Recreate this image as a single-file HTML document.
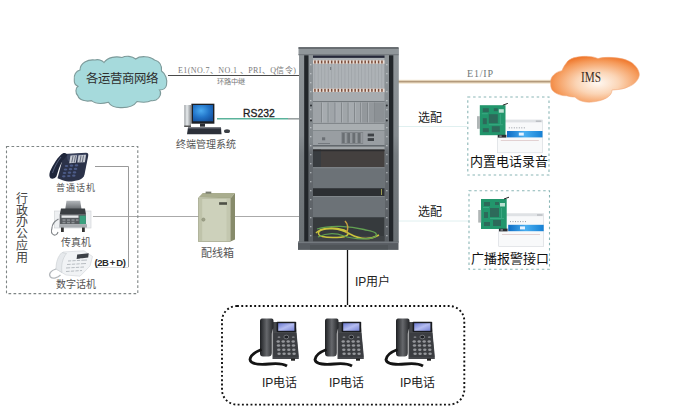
<!DOCTYPE html>
<html lang="zh-CN"><head><meta charset="utf-8">
<style>
html,body{margin:0;padding:0;background:#fff;}
body{width:700px;height:420px;overflow:hidden;position:relative;font-family:"Liberation Sans",sans-serif;}
svg{position:absolute;left:0;top:0;}
.t{position:absolute;white-space:nowrap;line-height:1;}
.serif{font-family:"Liberation Serif",serif;}
</style></head><body>
<svg width="700" height="420" viewBox="0 0 700 420">
<defs>
  <linearGradient id="bluebar" x1="0" x2="1"><stop offset="0" stop-color="#0e6cc4"/><stop offset="0.5" stop-color="#48aef0"/><stop offset="1" stop-color="#1580d4"/></linearGradient>
  <radialGradient id="imsg" cx="0.53" cy="0.58" r="0.6">
    <stop offset="0" stop-color="#fff9f3"/>
    <stop offset="0.4" stop-color="#fbd5b6"/>
    <stop offset="0.8" stop-color="#f59a5a"/>
    <stop offset="1" stop-color="#ef7428"/>
  </radialGradient>
</defs>
<!-- lines -->
<line x1="168" y1="75.5" x2="300" y2="75.5" stroke="#4a4a4a" stroke-width="1"/>
<line x1="217" y1="118.8" x2="288" y2="118.8" stroke="#5ab39b" stroke-width="1.6"/><line x1="288" y1="118.8" x2="300" y2="118.8" stroke="#9aa2a2" stroke-width="1.6"/>
<line x1="398" y1="81.7" x2="552" y2="81.7" stroke="#f3e6cf" stroke-width="4"/><line x1="398" y1="81.7" x2="552" y2="81.7" stroke="#b39a7c" stroke-width="1.8"/>
<line x1="93" y1="216.5" x2="300" y2="216.5" stroke="#aaa" stroke-width="1"/>
<line x1="95" y1="267.5" x2="128.5" y2="267.5" stroke="#dcdcdc" stroke-width="1"/>
<polyline points="95,166.5 128.5,166.5 128.5,267" fill="none" stroke="#999" stroke-width="1"/>
<line x1="398" y1="126.5" x2="467" y2="126.5" stroke="#e0f0f0" stroke-width="1"/>
<line x1="398" y1="221" x2="469" y2="221" stroke="#e0f0f0" stroke-width="1"/>
<line x1="347.5" y1="250" x2="347.5" y2="305" stroke="#111" stroke-width="1.3"/>

<!-- dashed boxes -->
<rect x="6.5" y="146.5" width="131.3" height="147.1" fill="none" stroke="#7f8585" stroke-width="1.1" stroke-dasharray="2.7,2.3"/>
<rect x="467.8" y="97" width="81.2" height="78" fill="none" stroke="#8ab6b6" stroke-width="1.1" stroke-dasharray="2.5,2.8"/>
<rect x="469" y="190.7" width="80.5" height="78.6" fill="none" stroke="#8ab6b6" stroke-width="1.1" stroke-dasharray="2.5,2.8"/>
<rect x="222" y="306" width="242.3" height="98.6" rx="15" ry="15" fill="none" stroke="#111" stroke-width="1.9" stroke-dasharray="1.9,2.4"/>

<!-- cloud 1 -->
<path d="M74.3,80 C73.5,75 76,71 80,70 C80,63 88,59 95,60 C98,59 102,60 104,62.5 C108,57 116,56 122,57.5 C126,55.5 132,56 135.7,59 C140,55.5 150,56 154.5,60 C159,61 162,64 161.5,71 C166,74 167.5,80 166.5,85 C166,88 163,90 159.5,90 C162,93 160,98 156,100 C153,101 152,101 151.5,100.6 C148,102.5 142,102.5 137,101.5 C134,106 128,107.8 121,107.6 C115,107.8 110,105.5 108.5,102.3 C102,104 95,103.5 91.5,100.6 C86,102 79,100 78,96 C75,93 75.5,88 78,86.3 C75,85 74,83 74.3,80 Z" fill="#a6dadc" stroke="#7d9a9a" stroke-width="1.1"/>
<g id="rack">
<defs>
<linearGradient id="sideL" x1="0" y1="0" x2="0" y2="1"><stop offset="0" stop-color="#90969a"/><stop offset="0.45" stop-color="#868c90"/><stop offset="0.55" stop-color="#767c80"/><stop offset="1" stop-color="#6a7074"/></linearGradient>
<linearGradient id="railL" x1="0" y1="0" x2="0" y2="1"><stop offset="0" stop-color="#90969a"/><stop offset="0.47" stop-color="#80868a"/><stop offset="0.53" stop-color="#656a6f"/><stop offset="1" stop-color="#5a5f64"/></linearGradient>
</defs>
<rect x="299" y="48" width="99.5" height="194" fill="#7c8387"/>
<rect x="299" y="48" width="5.2" height="194" fill="url(#sideL)"/>
<rect x="393.3" y="48" width="5.2" height="194" fill="url(#sideL)"/>
<rect x="304.2" y="54" width="4.5" height="188" fill="#22262a"/>
<rect x="389" y="54" width="4.3" height="188" fill="#22262a"/>
<rect x="308.7" y="54" width="4.3" height="188" fill="url(#railL)"/>
<rect x="384.5" y="54" width="4.5" height="188" fill="url(#railL)"/>
<rect x="310.1" y="64" width="1.3" height="1.3" fill="#c0c5c8"/>
<rect x="386.2" y="64" width="1.3" height="1.3" fill="#c0c5c8"/>
<rect x="310.1" y="73" width="1.3" height="1.3" fill="#c0c5c8"/>
<rect x="386.2" y="73" width="1.3" height="1.3" fill="#c0c5c8"/>
<rect x="310.1" y="82" width="1.3" height="1.3" fill="#c0c5c8"/>
<rect x="386.2" y="82" width="1.3" height="1.3" fill="#c0c5c8"/>
<rect x="310.1" y="91" width="1.3" height="1.3" fill="#c0c5c8"/>
<rect x="386.2" y="91" width="1.3" height="1.3" fill="#c0c5c8"/>
<rect x="310.1" y="100" width="1.3" height="1.3" fill="#c0c5c8"/>
<rect x="386.2" y="100" width="1.3" height="1.3" fill="#c0c5c8"/>
<rect x="310.1" y="109" width="1.3" height="1.3" fill="#c0c5c8"/>
<rect x="386.2" y="109" width="1.3" height="1.3" fill="#c0c5c8"/>
<rect x="310.1" y="118" width="1.3" height="1.3" fill="#c0c5c8"/>
<rect x="386.2" y="118" width="1.3" height="1.3" fill="#c0c5c8"/>
<rect x="310.1" y="127" width="1.3" height="1.3" fill="#c0c5c8"/>
<rect x="386.2" y="127" width="1.3" height="1.3" fill="#c0c5c8"/>
<rect x="310.1" y="136" width="1.3" height="1.3" fill="#c0c5c8"/>
<rect x="386.2" y="136" width="1.3" height="1.3" fill="#c0c5c8"/>
<rect x="310.1" y="145" width="1.3" height="1.3" fill="#c0c5c8"/>
<rect x="386.2" y="145" width="1.3" height="1.3" fill="#c0c5c8"/>
<rect x="310.1" y="154" width="1.3" height="1.3" fill="#b0b5b8"/>
<rect x="386.2" y="154" width="1.3" height="1.3" fill="#b0b5b8"/>
<rect x="310.1" y="163" width="1.3" height="1.3" fill="#b0b5b8"/>
<rect x="386.2" y="163" width="1.3" height="1.3" fill="#b0b5b8"/>
<rect x="310.1" y="172" width="1.3" height="1.3" fill="#b0b5b8"/>
<rect x="386.2" y="172" width="1.3" height="1.3" fill="#b0b5b8"/>
<rect x="310.1" y="181" width="1.3" height="1.3" fill="#b0b5b8"/>
<rect x="386.2" y="181" width="1.3" height="1.3" fill="#b0b5b8"/>
<rect x="310.1" y="190" width="1.3" height="1.3" fill="#b0b5b8"/>
<rect x="386.2" y="190" width="1.3" height="1.3" fill="#b0b5b8"/>
<rect x="310.1" y="199" width="1.3" height="1.3" fill="#b0b5b8"/>
<rect x="386.2" y="199" width="1.3" height="1.3" fill="#b0b5b8"/>
<rect x="310.1" y="208" width="1.3" height="1.3" fill="#b0b5b8"/>
<rect x="386.2" y="208" width="1.3" height="1.3" fill="#b0b5b8"/>
<rect x="310.1" y="217" width="1.3" height="1.3" fill="#b0b5b8"/>
<rect x="386.2" y="217" width="1.3" height="1.3" fill="#b0b5b8"/>
<rect x="310.1" y="226" width="1.3" height="1.3" fill="#b0b5b8"/>
<rect x="386.2" y="226" width="1.3" height="1.3" fill="#b0b5b8"/>
<rect x="310.1" y="235" width="1.3" height="1.3" fill="#b0b5b8"/>
<rect x="386.2" y="235" width="1.3" height="1.3" fill="#b0b5b8"/>
<rect x="298.5" y="47.2" width="100" height="8" fill="#90969a"/>
<rect x="298.5" y="47.2" width="100" height="1.6" fill="#5e6367"/>
<rect x="298.5" y="54.2" width="100" height="1" fill="#70767a"/>
<rect x="313" y="55.6" width="71.5" height="2.2" fill="#26283a"/>
<rect x="313" y="58" width="71.5" height="35" fill="#adb2b6"/>
<rect x="314.50" y="64" width="0.6" height="24" fill="#9ba0a4"/>
<rect x="317.85" y="64" width="0.6" height="24" fill="#9ba0a4"/>
<rect x="321.20" y="64" width="0.6" height="24" fill="#9ba0a4"/>
<rect x="324.55" y="64" width="0.6" height="24" fill="#9ba0a4"/>
<rect x="327.90" y="64" width="0.6" height="24" fill="#9ba0a4"/>
<rect x="331.25" y="64" width="0.6" height="24" fill="#9ba0a4"/>
<rect x="334.60" y="64" width="0.6" height="24" fill="#9ba0a4"/>
<rect x="337.95" y="64" width="0.6" height="24" fill="#9ba0a4"/>
<rect x="341.30" y="64" width="0.6" height="24" fill="#9ba0a4"/>
<rect x="344.65" y="64" width="0.6" height="24" fill="#9ba0a4"/>
<rect x="348.00" y="64" width="0.6" height="24" fill="#9ba0a4"/>
<rect x="351.35" y="64" width="0.6" height="24" fill="#9ba0a4"/>
<rect x="354.70" y="64" width="0.6" height="24" fill="#9ba0a4"/>
<rect x="358.05" y="64" width="0.6" height="24" fill="#9ba0a4"/>
<rect x="361.40" y="64" width="0.6" height="24" fill="#9ba0a4"/>
<rect x="364.75" y="64" width="0.6" height="24" fill="#9ba0a4"/>
<rect x="368.10" y="64" width="0.6" height="24" fill="#9ba0a4"/>
<rect x="371.45" y="64" width="0.6" height="24" fill="#9ba0a4"/>
<rect x="374.80" y="64" width="0.6" height="24" fill="#9ba0a4"/>
<rect x="378.15" y="64" width="0.6" height="24" fill="#9ba0a4"/>
<rect x="381.50" y="64" width="0.6" height="24" fill="#9ba0a4"/>
<rect x="313" y="60.3" width="71.5" height="3.4" fill="#eaddd5"/>
<rect x="313" y="88.6" width="71.5" height="3.4" fill="#eaddd5"/>
<rect x="314.20" y="60.5" width="1.5" height="3" fill="#7a4c3a"/>
<rect x="314.20" y="88.8" width="1.5" height="3" fill="#7a4c3a"/>
<rect x="317.55" y="60.5" width="1.5" height="3" fill="#7a4c3a"/>
<rect x="317.55" y="88.8" width="1.5" height="3" fill="#7a4c3a"/>
<rect x="320.90" y="60.5" width="1.5" height="3" fill="#7a4c3a"/>
<rect x="320.90" y="88.8" width="1.5" height="3" fill="#7a4c3a"/>
<rect x="324.25" y="60.5" width="1.5" height="3" fill="#7a4c3a"/>
<rect x="324.25" y="88.8" width="1.5" height="3" fill="#7a4c3a"/>
<rect x="327.60" y="60.5" width="1.5" height="3" fill="#7a4c3a"/>
<rect x="327.60" y="88.8" width="1.5" height="3" fill="#7a4c3a"/>
<rect x="330.95" y="60.5" width="1.5" height="3" fill="#7a4c3a"/>
<rect x="330.95" y="88.8" width="1.5" height="3" fill="#7a4c3a"/>
<rect x="334.30" y="60.5" width="1.5" height="3" fill="#7a4c3a"/>
<rect x="334.30" y="88.8" width="1.5" height="3" fill="#7a4c3a"/>
<rect x="337.65" y="60.5" width="1.5" height="3" fill="#7a4c3a"/>
<rect x="337.65" y="88.8" width="1.5" height="3" fill="#7a4c3a"/>
<rect x="341.00" y="60.5" width="1.5" height="3" fill="#7a4c3a"/>
<rect x="341.00" y="88.8" width="1.5" height="3" fill="#7a4c3a"/>
<rect x="344.35" y="60.5" width="1.5" height="3" fill="#7a4c3a"/>
<rect x="344.35" y="88.8" width="1.5" height="3" fill="#7a4c3a"/>
<rect x="347.70" y="60.5" width="1.5" height="3" fill="#7a4c3a"/>
<rect x="347.70" y="88.8" width="1.5" height="3" fill="#7a4c3a"/>
<rect x="351.05" y="60.5" width="1.5" height="3" fill="#7a4c3a"/>
<rect x="351.05" y="88.8" width="1.5" height="3" fill="#7a4c3a"/>
<rect x="354.40" y="60.5" width="1.5" height="3" fill="#7a4c3a"/>
<rect x="354.40" y="88.8" width="1.5" height="3" fill="#7a4c3a"/>
<rect x="357.75" y="60.5" width="1.5" height="3" fill="#7a4c3a"/>
<rect x="357.75" y="88.8" width="1.5" height="3" fill="#7a4c3a"/>
<rect x="361.10" y="60.5" width="1.5" height="3" fill="#7a4c3a"/>
<rect x="361.10" y="88.8" width="1.5" height="3" fill="#7a4c3a"/>
<rect x="364.45" y="60.5" width="1.5" height="3" fill="#7a4c3a"/>
<rect x="364.45" y="88.8" width="1.5" height="3" fill="#7a4c3a"/>
<rect x="367.80" y="60.5" width="1.5" height="3" fill="#7a4c3a"/>
<rect x="367.80" y="88.8" width="1.5" height="3" fill="#7a4c3a"/>
<rect x="371.15" y="60.5" width="1.5" height="3" fill="#7a4c3a"/>
<rect x="371.15" y="88.8" width="1.5" height="3" fill="#7a4c3a"/>
<rect x="374.50" y="60.5" width="1.5" height="3" fill="#7a4c3a"/>
<rect x="374.50" y="88.8" width="1.5" height="3" fill="#7a4c3a"/>
<rect x="377.85" y="60.5" width="1.5" height="3" fill="#7a4c3a"/>
<rect x="377.85" y="88.8" width="1.5" height="3" fill="#7a4c3a"/>
<rect x="381.20" y="60.5" width="1.5" height="3" fill="#7a4c3a"/>
<rect x="381.20" y="88.8" width="1.5" height="3" fill="#7a4c3a"/>
<rect x="330" y="67" width="1.2" height="3" fill="#7a7f83"/>
<rect x="313" y="92.2" width="71.5" height="9" fill="#a7acb0"/>
<rect x="313" y="101" width="71.5" height="0.9" fill="#6e7377"/>
<rect x="313" y="101.9" width="71.5" height="21.3" fill="#9ca1a5"/>
<rect x="313" y="102.2" width="71.5" height="20.6" fill="#9ea3a7"/>
<rect x="321.8" y="102.5" width="5.9" height="20" fill="#a6abaf"/>
<rect x="321.8" y="102.5" width="0.7" height="20" fill="#b6bbbf"/>
<rect x="328.5" y="102.5" width="6.1" height="20" fill="#a0a5a9"/>
<rect x="328.5" y="102.5" width="0.7" height="20" fill="#b6bbbf"/>
<rect x="335.4" y="102.5" width="5.6" height="20" fill="#a6abaf"/>
<rect x="335.4" y="102.5" width="0.7" height="20" fill="#b6bbbf"/>
<rect x="341.8" y="102.5" width="5.9" height="20" fill="#a0a5a9"/>
<rect x="341.8" y="102.5" width="0.7" height="20" fill="#b6bbbf"/>
<rect x="348.5" y="102.5" width="5.5" height="20" fill="#a6abaf"/>
<rect x="348.5" y="102.5" width="0.7" height="20" fill="#b6bbbf"/>
<rect x="354.8" y="102.5" width="5.5" height="20" fill="#a0a5a9"/>
<rect x="354.8" y="102.5" width="0.7" height="20" fill="#b6bbbf"/>
<rect x="361.1" y="102.5" width="6.0" height="20" fill="#93989c"/>
<rect x="361.1" y="102.5" width="0.7" height="20" fill="#b6bbbf"/>
<rect x="367.9" y="102.5" width="6.1" height="20" fill="#93989c"/>
<rect x="367.9" y="102.5" width="0.7" height="20" fill="#b6bbbf"/>
<rect x="321" y="102.5" width="0.8" height="20" fill="#7c8185"/>
<rect x="327.7" y="102.5" width="0.8" height="20" fill="#7c8185"/>
<rect x="334.6" y="102.5" width="0.8" height="20" fill="#7c8185"/>
<rect x="341" y="102.5" width="0.8" height="20" fill="#7c8185"/>
<rect x="347.7" y="102.5" width="0.8" height="20" fill="#7c8185"/>
<rect x="354" y="102.5" width="0.8" height="20" fill="#7c8185"/>
<rect x="360.3" y="102.5" width="0.8" height="20" fill="#7c8185"/>
<rect x="367.1" y="102.5" width="0.8" height="20" fill="#7c8185"/>
<rect x="374" y="102.5" width="0.8" height="20" fill="#7c8185"/>
<rect x="374.8" y="102.5" width="9.7" height="20" fill="#8c9195"/>
<circle cx="311" cy="105.5" r="1" fill="#2a2e32"/><circle cx="311" cy="120.5" r="1" fill="#2a2e32"/><circle cx="386.8" cy="105.5" r="1" fill="#2a2e32"/><circle cx="386.8" cy="120.5" r="1" fill="#2a2e32"/>
<rect x="313" y="123" width="71.5" height="0.8" fill="#777c80"/>
<rect x="313" y="123.8" width="71.5" height="6.6" fill="#a9aeb1"/>
<rect x="313" y="130" width="71.5" height="0.7" fill="#767b7f"/>
<rect x="313" y="130.7" width="71.5" height="14.6" fill="#999ea2"/>
<rect x="341.4" y="132" width="21.7" height="12" fill="#7f8488"/>
<rect x="342.2" y="133" width="2.6" height="10" fill="#6a6f73"/>
<rect x="344.8" y="133" width="1.8" height="10" fill="#959a9e"/>
<rect x="347.5" y="133" width="2.6" height="10" fill="#6a6f73"/>
<rect x="350.1" y="133" width="1.8" height="10" fill="#959a9e"/>
<rect x="352.8" y="133" width="2.6" height="10" fill="#6a6f73"/>
<rect x="355.4" y="133" width="1.8" height="10" fill="#959a9e"/>
<rect x="358.1" y="133" width="2.6" height="10" fill="#6a6f73"/>
<rect x="360.7" y="133" width="1.8" height="10" fill="#959a9e"/>
<rect x="367.7" y="133.6" width="6.3" height="2.8" fill="#3e4246"/>
<rect x="367.7" y="138.1" width="6.3" height="2.9" fill="#3e4246"/>
<rect x="322" y="137.3" width="3.2" height="3" fill="#6a6f74"/>
<rect x="318" y="143" width="12" height="0.9" fill="#70757a"/>
<rect x="313" y="145.3" width="71.5" height="1.3" fill="#555a5e"/>
<rect x="313" y="146.6" width="71.5" height="3" fill="#a2a7aa"/>
<rect x="313" y="149.6" width="71.5" height="17.6" fill="#44403f"/>
<rect x="313" y="149.6" width="8" height="17.6" fill="#383c40"/>
<rect x="313" y="149.6" width="71.5" height="1.6" fill="#2c2c2e"/>
<rect x="313" y="167.2" width="71.5" height="21" fill="#6c7277"/>
<rect x="313" y="167.2" width="71.5" height="1" fill="#80868a"/>
<rect x="313" y="188.2" width="71.5" height="7.8" fill="#2c2f32"/>
<rect x="381" y="189" width="1" height="6" fill="#9a9a50"/>
<rect x="313" y="196" width="71.5" height="21.2" fill="#6c7277"/>
<rect x="313" y="196" width="71.5" height="1" fill="#80868a"/>
<rect x="313" y="217.2" width="71.5" height="24.5" fill="#363a3d"/>
<rect x="313" y="236" width="71.5" height="5.7" fill="#3e4245"/>
<path d="M316,233 C321,227 334,227 344,230 C351,233 349,237 337,237.5 C325,238 316,236.5 319,231.5 C324,227 340,228 350,234 C360,239.5 370,240 379,235" fill="none" stroke="#cac33c" stroke-width="1.5"/>
<path d="M317,229 C330,225 350,226 364,229.5 C372,231.5 378,232 376,236 C372,240 354,239.5 344,236 C334,232 324,234 318,237" fill="none" stroke="#62a052" stroke-width="1.3"/>
<path d="M345,221 C348,224 349,229 346,233" fill="none" stroke="#c8a040" stroke-width="1.5"/>
<rect x="298" y="241.6" width="100.5" height="8.3" fill="#575c61"/>
<rect x="298" y="241.6" width="100.5" height="1.5" fill="#73797e"/>
<rect x="310" y="245" width="78" height="4.5" fill="#4f5458"/>
</g>
<!-- devices -->
<g id="pc">
<defs>
<linearGradient id="tower" x1="0" x2="1"><stop offset="0" stop-color="#9a9ea2"/><stop offset="0.4" stop-color="#e8ecee"/><stop offset="1" stop-color="#8a8e92"/></linearGradient>
<radialGradient id="scr" cx="0.4" cy="0.35" r="0.75"><stop offset="0" stop-color="#4aaaf0"/><stop offset="0.55" stop-color="#2274c8"/><stop offset="1" stop-color="#14509c"/></radialGradient>
</defs>
<rect x="184.3" y="105" width="6.7" height="22" fill="url(#tower)"/>
<rect x="184.3" y="125.5" width="6.7" height="1.5" fill="#555"/>
<rect x="191.4" y="103.7" width="23" height="20" fill="#1c1f24"/>
<rect x="193" y="105" width="20" height="16.3" fill="url(#scr)"/>
<rect x="200" y="123.5" width="5" height="3.2" fill="#2a2d33"/>
<path d="M188,127.5 L221,127.5 L221.5,134.2 L187,134.2 Z" fill="#2c3039"/>
<rect x="188" y="127.5" width="33" height="1.2" fill="#5a5e68"/>
<ellipse cx="227" cy="131.2" rx="3" ry="1.9" fill="#3c4046"/>
</g>
<g id="deskphone">
<path d="M64,154 L86,152.8 C88,152.8 88.5,154 88.2,156 L84.5,174.5 C84,177 82,179 79,180 L73,181.3 C70,181.8 66,181.4 62,180 L57.5,178.3 Z" fill="#2b3249"/>
<path d="M66,154.5 L86.5,153.5 L85.6,160 L68,161 Z" fill="#3c4560"/>
<path d="M70.5,155.6 L77,155.3 L75.8,162.7 L69.2,163.2 Z" fill="#c8ccd4"/>
<path d="M78.5,155.2 L86,154.8 L84.9,162.2 L77.3,162.6 Z" fill="#c8ccd4"/>
<path d="M72.5,156 L73.6,156 L72.3,162.5 L71.2,162.5 Z M75,155.8 L76,155.8 L74.8,162.4 L73.7,162.4 Z M80.5,155.6 L81.6,155.6 L80.4,162.2 L79.3,162.2 Z M83,155.4 L84,155.4 L82.9,162 L81.8,162 Z" fill="#6a7080"/>
<path d="M63,153.2 C58,156 53,165 50,171.5 C49,174.5 49.2,177 50.5,178.3 C52,179.3 54.5,178.8 56.4,176.6 C57.5,173 58.5,169.5 59.5,167 C61.5,162 64,158.5 67,156 C68,154.8 66,152.6 63,153.2 Z" fill="#1f263b"/>
<path d="M61,157 C57,162 54,168 52.5,173" fill="none" stroke="#5a6480" stroke-width="0.9"/>
<g fill="#4d5c88">
<ellipse cx="66.5" cy="166" rx="1.8" ry="1.1"/><ellipse cx="71.5" cy="165.7" rx="1.8" ry="1.1"/><ellipse cx="76.5" cy="165.4" rx="1.8" ry="1.1"/>
<ellipse cx="65.5" cy="169.5" rx="1.8" ry="1.1"/><ellipse cx="70.5" cy="169.2" rx="1.8" ry="1.1"/><ellipse cx="75.5" cy="168.9" rx="1.8" ry="1.1"/>
<ellipse cx="64.5" cy="173" rx="1.8" ry="1.1"/><ellipse cx="69.5" cy="172.7" rx="1.8" ry="1.1"/><ellipse cx="74.5" cy="172.4" rx="1.8" ry="1.1"/>
<ellipse cx="63.8" cy="176.3" rx="1.8" ry="1.1"/><ellipse cx="68.8" cy="176" rx="1.8" ry="1.1"/><ellipse cx="73.8" cy="175.7" rx="1.8" ry="1.1"/>
</g>
</g>
<g id="fax">
<defs><linearGradient id="tray" x1="0" y1="0" x2="0" y2="1"><stop offset="0" stop-color="#b4b8bc"/><stop offset="1" stop-color="#686c70"/></linearGradient></defs>
<rect x="54.5" y="211" width="36.5" height="17" fill="#eef0f2" stroke="#cdd0d3" stroke-width="0.6"/>
<path d="M66.5,200.7 L80.2,200.7 L81.5,209 L65.3,209 Z" fill="url(#tray)"/>
<path d="M61,208.6 L85,208.6 L86,214.8 L59.7,214.8 Z" fill="#3a3e42"/>
<rect x="59.7" y="214.8" width="26.2" height="9.5" fill="#595d61"/>
<rect x="61.5" y="215.4" width="17" height="2.4" fill="#e6e8ea"/>
<rect x="79.6" y="215.6" width="6.2" height="8.4" fill="#3aa07e"/>
<g fill="#8e9296"><rect x="62.5" y="219.3" width="3" height="1.5"/><rect x="67" y="219.3" width="3" height="1.5"/><rect x="71.5" y="219.3" width="3" height="1.5"/><rect x="76" y="219.3" width="2.5" height="1.5"/><rect x="62.5" y="221.8" width="3" height="1.5"/><rect x="67" y="221.8" width="3" height="1.5"/><rect x="71.5" y="221.8" width="3" height="1.5"/></g>
<rect x="59.2" y="224.2" width="27.8" height="3.4" fill="#a8acb0"/>
<rect x="61" y="227.5" width="2.8" height="4.5" fill="#333"/><rect x="82" y="227.5" width="2.8" height="4.5" fill="#333"/>
<path d="M58.5,219 C55,221 52,224 52,228 C51,231 51.5,234 54,235 C56,235.5 57.5,234 58,232" fill="none" stroke="#808488" stroke-width="1.1"/>
</g>
<g id="digphone">
<path d="M63,252 L84,250.8 L92.5,256.5 L90,266 L80,276.2 L66,275 L56,269 Z" fill="#f1f3f5" stroke="#d0d4d8" stroke-width="0.6"/>
<path d="M77.2,254.6 L88.7,253.2 L88.2,257.6 L76.6,258.9 Z" fill="#3c4046"/>
<g stroke="#b8bdc2" stroke-width="1">
<line x1="68" y1="261" x2="87" y2="260"/>
<line x1="67" y1="264.5" x2="86" y2="263.5"/>
<line x1="66" y1="268" x2="84" y2="267"/>
<line x1="66" y1="271.5" x2="82" y2="270.5"/>
</g>
<g stroke="#f1f3f5" stroke-width="1.2">
<line x1="72" y1="259" x2="70" y2="273"/><line x1="76.5" y1="259" x2="74.5" y2="273"/><line x1="81" y1="258.5" x2="79" y2="273"/>
</g>
<path d="M62,252.5 C58,256 56,262 56,269 L62,272.5 C61,266 62,259 66.5,253.5 Z" fill="#e6e9ec" stroke="#c8ccd0" stroke-width="0.6"/>
<path d="M56,269 C51,270.5 48,274 50.5,277 C53,279.5 58,277.5 60.5,275" fill="none" stroke="#b4b8bc" stroke-width="1.3"/>
</g>
<g id="cab">
<path d="M198.4,197.5 L202.7,193.1 L235,193.1 L230.6,198.2 Z" fill="#a9ad8e"/>
<path d="M230.6,198.2 L235,193.1 L235,239.5 L230.6,241.5 Z" fill="#878b6b"/>
<rect x="198.4" y="198" width="32.2" height="43.5" fill="#cdd1bb" stroke="#9da184" stroke-width="0.7"/>
<rect x="199" y="198.6" width="3.2" height="42.3" fill="#bfc3aa"/>
<rect x="226.5" y="199" width="3.5" height="42" fill="#c3c7af"/>
<rect x="205.6" y="191.6" width="5.7" height="2" fill="#7a7e70"/>
<rect x="219.1" y="202.2" width="7.9" height="2.6" fill="#4e5046"/>
<circle cx="203.4" cy="219.6" r="1.6" fill="#9ea288" stroke="#868a72" stroke-width="0.6"/>
</g>
<g class="pcb">
<rect x="497.5" y="120.0" width="45" height="32.8" fill="#f8f9fa" stroke="#d4d8dc" stroke-width="0.6"/>
<rect x="497.5" y="120.0" width="45" height="2.4" fill="#dfe2e5"/>
<rect x="535.8" y="120.5" width="5.5" height="1.4" fill="#b8bcc0"/>
<rect x="507.0" y="131.0" width="35.5" height="6.4" fill="url(#bluebar)"/>
<rect x="518.8" y="132.6" width="5" height="3" fill="#e6f2ff"/>
<g fill="#8a9098"><rect x="508.8" y="127.4" width="1" height="0.9"/><rect x="511.3" y="127.4" width="1" height="0.9"/><rect x="513.8" y="127.4" width="1" height="0.9"/><rect x="516.3" y="127.4" width="1" height="0.9"/><rect x="518.8" y="127.4" width="1" height="0.9"/><rect x="521.3" y="127.4" width="1" height="0.9"/><rect x="523.8" y="127.4" width="1" height="0.9"/></g>
<rect x="500.8" y="140.2" width="38" height="0.7" fill="#d8c0c0"/>
<rect x="479.8" y="105.2" width="25.7" height="30" fill="#22966c"/>
<rect x="477.0" y="116.2" width="3" height="12.6" fill="#b0b6b6"/>
<g fill="#2d6a5a">
<rect x="482.8" y="108.2" width="6" height="4"/>
<rect x="488.8" y="114.2" width="9" height="9"/>
<rect x="482.8" y="118.2" width="4" height="6"/>
<rect x="491.8" y="126.2" width="8" height="6"/>
<rect x="482.8" y="128.2" width="6" height="4"/>
<rect x="493.8" y="108.2" width="4" height="3"/>
</g>
<g fill="#3aa882"><rect x="481.8" y="113.2" width="6" height="1"/><rect x="488.8" y="124.2" width="14" height="1"/><rect x="499.8" y="114.2" width="1" height="10"/></g>
<rect x="498.8" y="109.2" width="5" height="3.5" fill="#b8e0d0"/>
<path d="M502.8,105.2 L507.8,103.4" stroke="#222" stroke-width="1"/>
<rect x="497.8" y="134.8" width="8.6" height="2.8" fill="#2a2e32"/>
<rect x="499.3" y="135.4" width="2.4" height="1.5" fill="#8a9094"/>
</g>
<g class="pcb">
<rect x="498.7" y="213.8" width="45" height="32.8" fill="#f8f9fa" stroke="#d4d8dc" stroke-width="0.6"/>
<rect x="498.7" y="213.8" width="45" height="2.4" fill="#dfe2e5"/>
<rect x="537.0" y="214.3" width="5.5" height="1.4" fill="#b8bcc0"/>
<rect x="508.2" y="224.8" width="35.5" height="6.4" fill="url(#bluebar)"/>
<rect x="520.0" y="226.4" width="5" height="3" fill="#e6f2ff"/>
<g fill="#8a9098"><rect x="510.0" y="221.2" width="1" height="0.9"/><rect x="512.5" y="221.2" width="1" height="0.9"/><rect x="515.0" y="221.2" width="1" height="0.9"/><rect x="517.5" y="221.2" width="1" height="0.9"/><rect x="520.0" y="221.2" width="1" height="0.9"/><rect x="522.5" y="221.2" width="1" height="0.9"/><rect x="525.0" y="221.2" width="1" height="0.9"/></g>
<rect x="502.0" y="234.0" width="38" height="0.7" fill="#d8c0c0"/>
<rect x="481.0" y="199.0" width="25.7" height="30" fill="#22966c"/>
<rect x="478.2" y="210.0" width="3" height="12.6" fill="#b0b6b6"/>
<g fill="#2d6a5a">
<rect x="484.0" y="202.0" width="6" height="4"/>
<rect x="490.0" y="208.0" width="9" height="9"/>
<rect x="484.0" y="212.0" width="4" height="6"/>
<rect x="493.0" y="220.0" width="8" height="6"/>
<rect x="484.0" y="222.0" width="6" height="4"/>
<rect x="495.0" y="202.0" width="4" height="3"/>
</g>
<g fill="#3aa882"><rect x="483.0" y="207.0" width="6" height="1"/><rect x="490.0" y="218.0" width="14" height="1"/><rect x="501.0" y="208.0" width="1" height="10"/></g>
<rect x="500.0" y="203.0" width="5" height="3.5" fill="#b8e0d0"/>
<path d="M504.0,199.0 L509.0,197.2" stroke="#222" stroke-width="1"/>
<rect x="499.0" y="228.6" width="8.6" height="2.8" fill="#2a2e32"/>
<rect x="500.5" y="229.2" width="2.4" height="1.5" fill="#8a9094"/>
</g>
<g id="ipphones"><defs id="phdefs">
<linearGradient id="hset" x1="0" x2="1"><stop offset="0" stop-color="#1e2023"/><stop offset="0.5" stop-color="#66686c"/><stop offset="1" stop-color="#232528"/></linearGradient>
<linearGradient id="ipscr" x1="0" y1="0" x2="1" y2="1"><stop offset="0" stop-color="#6a78d0"/><stop offset="0.5" stop-color="#b4bcf0"/><stop offset="1" stop-color="#7884d4"/></linearGradient>
</defs><g>
<path d="M272.5,322 L295.5,322 L298.8,356 L298.8,359 L272.5,359 Z" fill="#46484c"/>
<path d="M273.5,333 L296.3,333 L298.3,357 L273.5,357 Z" fill="#3b3d41"/>
<rect x="276.6" y="321.7" width="19.6" height="10.3" rx="0.8" fill="#1a1c20"/>
<rect x="278.2" y="323.2" width="16.2" height="7.6" fill="url(#ipscr)"/>
<ellipse cx="286.3" cy="337" rx="2.4" ry="1.8" fill="#1e2024" stroke="#8a8c90" stroke-width="0.7"/>
<g fill="#7a7c80"><ellipse cx="279.0" cy="337.2" rx="1.4" ry="0.9"/><ellipse cx="293.3" cy="337.2" rx="1.4" ry="0.9"/></g>
<g fill="#96989c"><ellipse cx="278.2" cy="341.5" rx="1.7" ry="1.25"/><ellipse cx="283.2" cy="341.5" rx="1.7" ry="1.25"/><ellipse cx="288.2" cy="341.5" rx="1.7" ry="1.25"/><ellipse cx="293.2" cy="341.5" rx="1.7" ry="1.25"/><ellipse cx="278.5" cy="345.6" rx="1.7" ry="1.25"/><ellipse cx="283.5" cy="345.6" rx="1.7" ry="1.25"/><ellipse cx="288.5" cy="345.6" rx="1.7" ry="1.25"/><ellipse cx="293.5" cy="345.6" rx="1.7" ry="1.25"/><ellipse cx="278.8" cy="349.7" rx="1.7" ry="1.25"/><ellipse cx="283.8" cy="349.7" rx="1.7" ry="1.25"/><ellipse cx="288.8" cy="349.7" rx="1.7" ry="1.25"/><ellipse cx="293.8" cy="349.7" rx="1.7" ry="1.25"/><ellipse cx="279.1" cy="353.8" rx="1.7" ry="1.25"/><ellipse cx="284.1" cy="353.8" rx="1.7" ry="1.25"/><ellipse cx="289.1" cy="353.8" rx="1.7" ry="1.25"/><ellipse cx="294.1" cy="353.8" rx="1.7" ry="1.25"/></g>
<rect x="291.0" y="358.5" width="4" height="2.2" fill="#222"/>
<path d="M262.0,318.5 L271.5,318.5 C273.0,318.5 273.5,319.5 273.5,321 L273.5,328 C272.2,330 271.8,332 271.8,335 L271.8,353 C271.8,355.5 270.5,356.4 268.5,356.4 L263.0,356.4 C261.0,356.4 260.0,355.5 260.0,353.5 L260.0,321 C260.0,319.5 260.8,318.5 262.0,318.5 Z" fill="url(#hset)"/>
<path d="M261.5,349.5 C255.0,352 250.5,355.5 250.0,359.5 C250.5,364 259.0,364.8 269.0,364 C277.0,363.2 283.0,363.5 287.0,366" fill="none" stroke="#141414" stroke-width="2.8"/>
</g><g>
<path d="M337.5,322 L360.5,322 L363.8,356 L363.8,359 L337.5,359 Z" fill="#46484c"/>
<path d="M338.5,333 L361.3,333 L363.3,357 L338.5,357 Z" fill="#3b3d41"/>
<rect x="341.6" y="321.7" width="19.6" height="10.3" rx="0.8" fill="#1a1c20"/>
<rect x="343.2" y="323.2" width="16.2" height="7.6" fill="url(#ipscr)"/>
<ellipse cx="351.3" cy="337" rx="2.4" ry="1.8" fill="#1e2024" stroke="#8a8c90" stroke-width="0.7"/>
<g fill="#7a7c80"><ellipse cx="344.0" cy="337.2" rx="1.4" ry="0.9"/><ellipse cx="358.3" cy="337.2" rx="1.4" ry="0.9"/></g>
<g fill="#96989c"><ellipse cx="343.2" cy="341.5" rx="1.7" ry="1.25"/><ellipse cx="348.2" cy="341.5" rx="1.7" ry="1.25"/><ellipse cx="353.2" cy="341.5" rx="1.7" ry="1.25"/><ellipse cx="358.2" cy="341.5" rx="1.7" ry="1.25"/><ellipse cx="343.5" cy="345.6" rx="1.7" ry="1.25"/><ellipse cx="348.5" cy="345.6" rx="1.7" ry="1.25"/><ellipse cx="353.5" cy="345.6" rx="1.7" ry="1.25"/><ellipse cx="358.5" cy="345.6" rx="1.7" ry="1.25"/><ellipse cx="343.8" cy="349.7" rx="1.7" ry="1.25"/><ellipse cx="348.8" cy="349.7" rx="1.7" ry="1.25"/><ellipse cx="353.8" cy="349.7" rx="1.7" ry="1.25"/><ellipse cx="358.8" cy="349.7" rx="1.7" ry="1.25"/><ellipse cx="344.1" cy="353.8" rx="1.7" ry="1.25"/><ellipse cx="349.1" cy="353.8" rx="1.7" ry="1.25"/><ellipse cx="354.1" cy="353.8" rx="1.7" ry="1.25"/><ellipse cx="359.1" cy="353.8" rx="1.7" ry="1.25"/></g>
<rect x="356.0" y="358.5" width="4" height="2.2" fill="#222"/>
<path d="M327.0,318.5 L336.5,318.5 C338.0,318.5 338.5,319.5 338.5,321 L338.5,328 C337.2,330 336.8,332 336.8,335 L336.8,353 C336.8,355.5 335.5,356.4 333.5,356.4 L328.0,356.4 C326.0,356.4 325.0,355.5 325.0,353.5 L325.0,321 C325.0,319.5 325.8,318.5 327.0,318.5 Z" fill="url(#hset)"/>
<path d="M326.5,349.5 C320.0,352 315.5,355.5 315.0,359.5 C315.5,364 324.0,364.8 334.0,364 C342.0,363.2 348.0,363.5 352.0,366" fill="none" stroke="#141414" stroke-width="2.8"/>
</g><g>
<path d="M408.5,322 L431.5,322 L434.8,356 L434.8,359 L408.5,359 Z" fill="#46484c"/>
<path d="M409.5,333 L432.3,333 L434.3,357 L409.5,357 Z" fill="#3b3d41"/>
<rect x="412.6" y="321.7" width="19.6" height="10.3" rx="0.8" fill="#1a1c20"/>
<rect x="414.2" y="323.2" width="16.2" height="7.6" fill="url(#ipscr)"/>
<ellipse cx="422.3" cy="337" rx="2.4" ry="1.8" fill="#1e2024" stroke="#8a8c90" stroke-width="0.7"/>
<g fill="#7a7c80"><ellipse cx="415.0" cy="337.2" rx="1.4" ry="0.9"/><ellipse cx="429.3" cy="337.2" rx="1.4" ry="0.9"/></g>
<g fill="#96989c"><ellipse cx="414.2" cy="341.5" rx="1.7" ry="1.25"/><ellipse cx="419.2" cy="341.5" rx="1.7" ry="1.25"/><ellipse cx="424.2" cy="341.5" rx="1.7" ry="1.25"/><ellipse cx="429.2" cy="341.5" rx="1.7" ry="1.25"/><ellipse cx="414.5" cy="345.6" rx="1.7" ry="1.25"/><ellipse cx="419.5" cy="345.6" rx="1.7" ry="1.25"/><ellipse cx="424.5" cy="345.6" rx="1.7" ry="1.25"/><ellipse cx="429.5" cy="345.6" rx="1.7" ry="1.25"/><ellipse cx="414.8" cy="349.7" rx="1.7" ry="1.25"/><ellipse cx="419.8" cy="349.7" rx="1.7" ry="1.25"/><ellipse cx="424.8" cy="349.7" rx="1.7" ry="1.25"/><ellipse cx="429.8" cy="349.7" rx="1.7" ry="1.25"/><ellipse cx="415.1" cy="353.8" rx="1.7" ry="1.25"/><ellipse cx="420.1" cy="353.8" rx="1.7" ry="1.25"/><ellipse cx="425.1" cy="353.8" rx="1.7" ry="1.25"/><ellipse cx="430.1" cy="353.8" rx="1.7" ry="1.25"/></g>
<rect x="427.0" y="358.5" width="4" height="2.2" fill="#222"/>
<path d="M398.0,318.5 L407.5,318.5 C409.0,318.5 409.5,319.5 409.5,321 L409.5,328 C408.2,330 407.8,332 407.8,335 L407.8,353 C407.8,355.5 406.5,356.4 404.5,356.4 L399.0,356.4 C397.0,356.4 396.0,355.5 396.0,353.5 L396.0,321 C396.0,319.5 396.8,318.5 398.0,318.5 Z" fill="url(#hset)"/>
<path d="M397.5,349.5 C391.0,352 386.5,355.5 386.0,359.5 C386.5,364 395.0,364.8 405.0,364 C413.0,363.2 419.0,363.5 423.0,366" fill="none" stroke="#141414" stroke-width="2.8"/>
</g></g><!-- /ipphones -->
<!-- IMS cloud -->
<g fill="url(#imsg)">
  <path d="M550.7,83 C550,77 555,72 562,70.7 C563,68 564,66 566.4,63 C569,58 578,56 588,56.4 C592,56.5 596,57.5 598,58.6 C604,56.5 620,57 628,60.7 C634,63 639,69 639.3,74.3 C639.5,79 634,85 629,86.4 C625,88.5 621,89.5 612,90 C612,97 603,101 591,102.1 C584,102.5 578,100.5 575,97.1 C572,97 569,96.5 566.4,95.7 C560,96 553,92.5 551.4,88.6 C550.8,87 550.6,85 550.7,83 Z" stroke="#f2a878" stroke-width="0.6"/>
</g>
</svg>

<!-- texts -->
<div class="t serif" style="left:85.5px;top:73px;font-size:12.4px;color:#2e2e2e;">各运营商网络</div>
<div class="t serif" style="left:178px;top:67px;font-size:8px;color:#7a7a7a;letter-spacing:0.4px;">E1(NO.7、NO.1 、PRI、Q信令)</div>
<div class="t serif" style="left:217px;top:78.5px;font-size:7.2px;color:#777;">环路中继</div>
<div class="t" style="left:242.6px;top:107.5px;font-size:11.5px;color:#1e1e1e;-webkit-text-stroke:0.35px #1e1e1e;transform:scaleX(0.9);transform-origin:0 0;">RS232</div>
<div class="t serif" style="left:176px;top:139.5px;font-size:10px;color:#555;">终端管理系统</div>
<div class="t serif" style="left:467px;top:69px;font-size:10px;color:#717979;letter-spacing:0.8px;">E1/IP</div>
<div class="t serif" style="left:580.5px;top:71px;font-size:14px;color:#3a2a22;transform:scaleX(0.8);transform-origin:0 0;">IMS</div>
<div class="t" style="left:418px;top:111.5px;font-size:12px;color:#222;">选配</div>
<div class="t" style="left:418px;top:206px;font-size:12px;color:#222;">选配</div>
<div class="t" style="left:470px;top:155px;font-size:13px;color:#111;">内置电话录音</div>
<div class="t" style="left:471px;top:252px;font-size:13px;color:#111;">广播报警接口</div>
<div class="t" style="left:355px;top:275.5px;font-size:12px;color:#222;">IP用户</div>
<div class="t" style="left:262px;top:376.5px;font-size:12px;color:#222;">IP电话</div>
<div class="t" style="left:329px;top:376.5px;font-size:12px;color:#222;">IP电话</div>
<div class="t" style="left:400px;top:376.5px;font-size:12px;color:#222;">IP电话</div>
<div class="t serif" style="left:56px;top:184px;font-size:9px;color:#555;letter-spacing:1px;">普通话机</div>
<div class="t serif" style="left:61px;top:238px;font-size:10px;color:#555;">传真机</div>
<div class="t serif" style="left:56px;top:280px;font-size:10px;color:#555;">数字话机</div>
<div class="t" style="left:94.5px;top:257.5px;font-size:9.5px;color:#2a2a2a;font-weight:bold;letter-spacing:-0.5px;">(2B<span style="font-size:7px;"> </span>+<span style="font-size:7px;"> </span>D)</div>
<div class="t serif" style="left:16px;top:194px;font-size:12px;color:#444;width:12px;line-height:11.7px;white-space:normal;">行政办公应用</div>
<div class="t serif" style="left:201px;top:248px;font-size:11px;color:#555;">配线箱</div>
</body></html>
